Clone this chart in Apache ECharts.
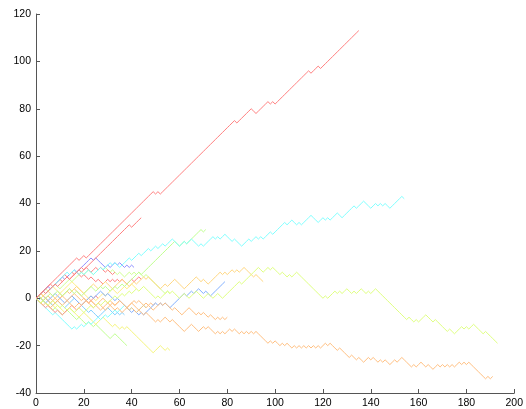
<!DOCTYPE html>
<html>
<head>
<meta charset="utf-8">
<script src="https://cdn.jsdelivr.net/npm/echarts@6/dist/echarts.min.js"></script>
<style>
  html, body { margin: 0; padding: 0; background: #fff; }
  #chart { width: 526px; height: 409px; }
</style>
</head>
<body>
<div id="chart"></div>
<script>
// Random walks: position after each step (step number = array index).
const walkRedA = [0,1,2,3,4,5,6,7,8,9,10,11,12,13,14,15,16,17,
  16,17,18,
  17,18,19,20,21,22,23,24,25,26,27,28,29,30,31,32,33,34,35,36,37,38,39,40,41,42,43,44,45,
  44,45,44,
  45,46,47,48,49,50,51,52,53,54,55,56,57,58,59,60,61,62,63,64,65,66,67,68,69,70,71,72,73,74,75,
  74,75,76,77,78,79,80,
  79,78,79,80,81,82,83,
  82,83,82,
  83,84,85,86,87,88,89,90,91,92,93,94,95,96,
  95,96,97,98,
  97,98,99,100,101,102,103,104,105,106,107,108,109,110,111,112,113];

const walkRedB = [0,1,2,3,2,3,4,5,6,5,6,7,8,9,8,9,10,11,12,13,12,
  13,14,15,16,17,18,19,20,21,22,23,24,25,26,27,28,29,30,31,30,31,32,33,34];

const walkCyanA = [0,1,2,3,2,3,4,5,6,7,8,9,10,11,10,11,12,11,10,11,10,11,12,11,10,11,12,13,12,13,14,
  15,14,15,14,13,14,15,16,17,16,17,18,19,18,19,20,21,
  20,21,22,21,22,23,22,23,24,25,24,23,22,23,24,23,24,25,24,
  23,22,23,22,23,24,25,26,25,26,25,26,27,26,25,24,25,24,23,22,23,24,25,24,25,26,25,26,25,26,27,28,27,
  28,29,30,31,32,31,32,33,32,31,32,31,32,33,34,35,34,33,32,33,34,33,34,33,34,35,36,35,34,35,36,37,38,39,
  38,39,40,41,40,39,38,39,40,39,40,39,40,39,38,39,40,41,42,43,42];

const walkGreenA = [0,1,0,-1,0,1,2,1,2,3, 2,1,2,3,4,3,2,3,2,1, 2,3,4,5,4,3,4,5,4,5,
  4,3,4,5,4,5,6,5,6,7, 8,9,10,11,10,11,12,13,14,15, 16,17,18,19,20,21,22,23,24,23,
  22,23,24,23,24,25,26,27,28,29, 28,29];

const walkLimeA = [0,-1,-2,-1,-2,-3,-2,-1,-2,-3, -4,-3,-4,-5,-4,-5,-6,-5,-4,-5,
  -6,-5,-4,-3,-4,-3,-2,-3,-2,-1, -2,-1,0,1,0,1,2,1,2,3,
  2,3,4,3,4,5,4,3,2,1, 0,1,0,1,2,3,2,3,2,1,
  0,1,2,1,0,1,2,3,2,1, 0,1,2,1,0,1,2,1,0,1,
  2,3,4,5,6,7,6,7,8,9, 10,11,12,13,12,11,12,13,12,13,
  12,11,10,11,10,9,10,9,10,11, 10,9,8,7,6,5,4,3,2,1,
  0,1,0,1,2,3,2,3,2,3, 4,3,2,3,2,3,4,3,2,3,
  2,3,4,3,2,1,0,-1,-2,-3, -4,-5,-6,-7,-8,-9,-8,-9,-10,-9,
  -10,-9,-8,-7,-8,-9,-10,-9,-10,-11, -12,-13,-14,-13,-14,-15,-14,-13,-12,-13,
  -12,-13,-12,-11,-12,-13,-14,-15,-14,-15, -16,-17,-18,-19];

const walkOrangeA = [0,1,0,-1,0,-1,-2,-1,0,-1, -2,-3,-2,-1,-2,-3,-4,-3,-2,-3,
  -2,-1,-2,-3,-4,-3,-4,-5,-4,-3, -2,-3,-4,-5,-4,-5,-6,-5,-4,-5,
  -4,-5,-6,-5,-6,-7,-6,-7,-8,-9, -10,-9,-10,-9,-8,-9,-10,-9,-10,-11,
  -12,-13,-14,-13,-12,-11,-12,-13,-14,-13, -12,-13,-12,-13,-14,-15,-14,-15,-14,-15,
  -14,-13,-14,-13,-14,-15,-14,-15,-14,-15, -14,-15,-14,-15,-16,-17,-18,-19,-18,-19,
  -18,-19,-20,-19,-20,-19,-20,-21,-20,-21, -20,-21,-20,-21,-20,-21,-20,-21,-20,-21,
  -20,-19,-20,-19,-20,-21,-22,-21,-22,-23, -24,-25,-24,-25,-26,-25,-26,-27,-26,-25,
  -26,-25,-26,-27,-26,-27,-26,-27,-28,-27, -26,-27,-26,-25,-26,-27,-28,-29,-28,-29,
  -28,-27,-28,-29,-28,-29,-30,-29,-28,-29, -28,-29,-28,-29,-28,-29,-28,-27,-28,-27,
  -28,-27,-28,-29,-30,-31,-32,-33,-34,-33, -34,-33];

const walkOrangeB = [0,-1,-2,-3,-2,-3,-4,-3,-2,-1, 0,1,0,-1,0,1,2,1,0,-1,
  0,-1,-2,-1,-2,-3,-2,-1,0,-1, -2,-1,-2,-3,-2,-1,-2,-3,-4,-3,
  -2,-1,-2,-1,-2,-3,-2,-3,-4,-5, -4,-3,-2,-3,-2,-3,-4,-5,-4,-5,
  -6,-7,-6,-5,-4,-5,-6,-7,-6,-7, -6,-7,-8,-7,-8,-9,-8,-9,-8,-9, -8];

const walkAmberA = [0,1,2,1,2,3,2,1,0,1, 2,1,2,3,4,3,4,5,4,3,
  2,3,4,5,6,5,4,5,6,7, 6,5,4,5,6,7,8,7,6,5,
  6,7,6,7,8,9,8,9,8,7, 6,5,4,5,6,5,6,7,8,7,
  6,5,4,5,6,7,8,9,8,7, 8,7,6,7,8,9,10,11,10,11,
  10,11,12,11,12,11,12,13,12,11, 10,9,10,9,8,7];

const walkBlueA = [0,1,0,-1,-2,-1,0,1,2,1, 0,-1,-2,-1,0,1,0,-1,-2,-3,
  -2,-1,0,1,0,1,2,3,2,1, 2,1,0,-1,0,-1,-2,-3,-4,-5,
  -6,-5,-6,-7,-6,-7,-6,-5,-4,-3, -2,-3,-2,-3,-2,-3,-4,-3,-2,-1,
  0,1,2,1,2,3,2,3,4,3, 2,3,2,1,2,3,4,5,6,7];

const walkIndigoA = [0,1,2,3,4,5,4,5,6,7, 8,9,8,9,10,11,12,11,12,13,
  14,15,16,17,16,17,16,15,14,13, 14,13,14,15,14,15,14,13,14,13, 14,13];

const walkRedC = [0,1,2,3,4,5,6,5,6,7, 8,9,10,9,8,9,10,11,10,9,
  10,9,8,9,8,7,8,7,6,7, 8,7,8,7,8,7,8,7,6,7, 8,7,8,9,8];

const walkRedD = [0,1,2,3,2,3,4,5,6,7, 8,7,8,9,10,11,10,11,12,11,
  12,13,12,11,12,13,12,13,12,11, 12,11,10,11];

const walkRedE = [0,-1,-2,-3,-4,-3,-4,-5,-6,-5, -6,-7,-6,-5,-4,-3,-4,-5,-4,-3,
  -2,-1,-2,-1,0,1,0];

const walkCyanB = [0,-1,-2,-3,-4,-5,-6,-7,-6,-7, -8,-9,-10,-11,-12,-13,-12,-13,-12,-11,
  -12,-11,-10,-11,-10,-9,-8,-9,-8,-7, -8,-7,-6,-5,-6,-5,-4,-3,-4,-5,
  -4,-5,-6,-5,-4,-3,-4];

const walkYellowA = [0,-1,-2,-1,0,-1,-2,-3,-4,-3, -4,-5,-6,-5,-4,-5,-6,-7,-8,-7,
  -6,-7,-8,-9,-10,-11,-10,-9,-8,-9, -10,-11,-12,-11,-12,-13,-12,-13,-12,-13,
  -14,-15,-16,-17,-18,-19,-20,-21,-22,-23, -22,-21,-20,-21,-22,-21,-22];

const walkGreenB = [0,-1,-2,-1,-2,-3,-4,-5,-4,-5, -6,-7,-6,-5,-6,-7,-8,-9,-8,-9,
  -10,-11,-10,-11,-12,-11,-12,-13,-14,-15, -16,-17,-16,-15,-16,-17,-18,-19,-20];

const walkGreenC = [0,1,2,3,4,3,4,5,6,5, 4,5,6,7,8,7,8,9,10,11,
  10,11,12,11,10,11,12,13,12,13, 12,11,12,11,10,11,10,9,10,11,
  10,11,10,11,10,9,10,9,8,7, 6,5,4,3,2,3,2];

const walkOrangeC = [0,1,2,1,0,1,0,-1,-2,-1, 0,1,2,3,2,3,4,3,2,1,
  0,-1,0,-1,-2,-3,-2,-3,-4,-5, -4,-3,-2,-3,-2,-1,-2,-3,-4,-3,
  -2,-3,-4,-5,-4,-3,-4,-3,-2,-3, -2];

const walkYellowB = [0,1,0,1,2,3,4,5,4,3, 2,3,4,5,6,7,6,5,4,3,
  2,1,0,1,0,-1,0,1,2,1, 2,3,4,3,2,3,4,5,4,5, 6,5,4];

const walkSkyA = [0,-1,0,1,0,-1,-2,-3,-2,-1, -2,-3,-4,-3,-2,-1,0,-1,-2,-3,
  -4,-5,-6,-5,-6,-7,-8,-7,-6,-5, -4,-5,-6,-7,-6,-7,-6,-7];

// Line colours (pale jet-style palette)
const walks = [
  { data: walkGreenB,  color: '#bfff8f' },
  { data: walkYellowA, color: '#f5f57a' },
  { data: walkCyanB,   color: '#7fffff' },
  { data: walkSkyA,    color: '#7fcfff' },
  { data: walkOrangeC, color: '#ffbf7f' },
  { data: walkYellowB, color: '#ffef7f' },
  { data: walkGreenC,  color: '#cfff8f' },
  { data: walkRedE,    color: '#ff8f8f' },
  { data: walkRedD,    color: '#ff7f7f' },
  { data: walkRedC,    color: '#ff7f7f' },
  { data: walkIndigoA, color: '#8f8fff' },
  { data: walkBlueA,   color: '#7fafff' },
  { data: walkAmberA,  color: '#ffd77f' },
  { data: walkOrangeB, color: '#ffbf7f' },
  { data: walkOrangeA, color: '#ffbf7f' },
  { data: walkLimeA,   color: '#dfff7f' },
  { data: walkGreenA,  color: '#bfff8f' },
  { data: walkCyanA,   color: '#7fffff' },
  { data: walkRedB,    color: '#ff7f7f' },
  { data: walkRedA,    color: '#ff7f7f' }
];

const chart = echarts.init(document.getElementById('chart'), null, { renderer: 'canvas' });

const axisCommon = {
  type: 'value',
  axisLine: { show: true, onZero: false, lineStyle: { color: '#555', width: 1 } },
  axisTick: { show: true, inside: true, length: 4, lineStyle: { color: '#555' } },
  axisLabel: { color: '#000', fontSize: 10.5, fontFamily: 'Liberation Sans, Arial, sans-serif', margin: 5 },
  splitLine: { show: false }
};

chart.setOption({
  animation: false,
  backgroundColor: '#fff',
  grid: { left: 36, right: 10, top: 14, bottom: 16, containLabel: false },
  xAxis: Object.assign({}, axisCommon, { min: 0, max: 200, interval: 20 }),
  yAxis: Object.assign({}, axisCommon, { min: -40, max: 120, interval: 20 }),
  series: walks.map(w => ({
    type: 'line',
    data: w.data.map((y, i) => [i, y]),
    showSymbol: false,
    silent: true,
    lineStyle: { color: w.color, width: 1 },
    itemStyle: { color: w.color }
  }))
});
</script>
</body>
</html>
